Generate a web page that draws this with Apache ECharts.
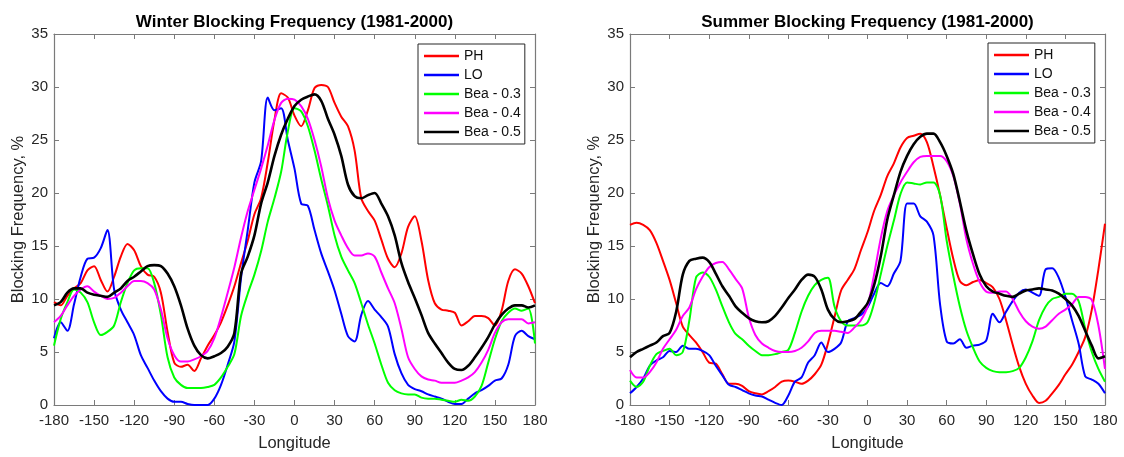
<!DOCTYPE html>
<html>
<head>
<meta charset="utf-8">
<script src="https://cdn.jsdelivr.net/npm/echarts@6/dist/echarts.min.js"></script>
<style>
  html, body { margin: 0; padding: 0; background: #fff; }
  #chart { width: 1124px; height: 457px; }
</style>
</head>
<body>
<div id="chart"></div>
<script>
// longitude grid (degrees)
const lons = [-180,-175,-170,-165,-160,-155,-150,-145,-140,-135,-130,-125,-120,-115,-110,-105,-100,-95,-90,-85,-80,-75,-70,-65,-60,-55,-50,-45,-40,-35,-30,-25,-20,-15,-10,-5,
  0,5,10,15,20,25,30,35,40,45,50,55,60,65,70,75,80,85,90,95,100,105,110,115,120,125,130,135,140,145,150,155,160,165,170,175,180];

const seriesNames = ['PH', 'LO', 'Bea - 0.3', 'Bea - 0.4', 'Bea - 0.5'];
const seriesColors = ['#ff0000', '#0000ff', '#00ff00', '#ff00ff', '#000000'];
const xTicks = [-180, -150, -120, -90, -60, -30, 0, 30, 60, 90, 120, 150, 180];
const yTicks = [0, 5, 10, 15, 20, 25, 30, 35];

// winter (1981-2000)
const winterPH = [9.7, 9.4, 10.3, 11.0, 11.5, 12.7, 13.1, 11.8, 10.7, 12.1, 14.0, 15.2, 14.6, 13.1, 12.3, 12.1, 10.6, 6.9, 4.0, 3.6, 3.8, 3.2, 4.4, 5.6, 6.6, 7.8, 9.4, 11.2, 13.4, 15.5, 18.0, 19.5, 22.9, 26.9, 29.4, 29.0,
  27.3, 26.3, 27.8, 29.9, 30.2, 30.0, 28.5, 27.2, 26.3, 24.0, 19.5, 18.3, 17.4, 15.6, 13.8, 13.0, 14.3, 16.8, 17.8, 15.5, 11.8, 9.6, 9.0, 8.9, 8.7, 7.5, 7.9, 8.4, 8.4, 8.2, 7.5, 8.9, 11.7, 12.8, 12.4, 11.2, 9.6];
const winterLO = [6.3, 7.8, 7.0, 9.5, 12.1, 13.8, 13.9, 14.8, 16.5, 10.9, 9.0, 7.8, 6.6, 4.7, 3.5, 2.3, 1.3, 0.6, 0.3, 0.3, 0.1, 0, 0, 0, 0.6, 1.9, 3.8, 6.0, 12.0, 16.5, 21.0, 23.0, 29.0, 27.8, 28.0, 25.0,
  22.3, 19.0, 18.8, 16.5, 14.3, 12.6, 10.8, 8.6, 6.5, 6.0, 8.5, 9.8, 9.0, 8.3, 7.4, 4.8, 3.0, 1.9, 1.5, 1.3, 1.0, 0.8, 0.6, 0.3, 0.1, 0.1, 0.6, 1.1, 1.4, 1.8, 2.3, 2.5, 3.8, 6.5, 7.0, 6.5, 6.2];
const winterB3 = [5.6, 8.1, 9.7, 10.9, 10.6, 9.7, 7.8, 6.6, 6.9, 7.5, 9.7, 11.5, 12.7, 12.9, 12.9, 11.5, 8.5, 4.5, 2.6, 1.9, 1.6, 1.6, 1.6, 1.7, 1.9, 2.6, 3.6, 4.8, 8.4, 10.5, 12.3, 14.5, 17.3, 19.5, 22.0, 25.8,
  28.0, 27.7, 26.3, 24.0, 21.3, 18.8, 16.0, 14.0, 12.7, 11.5, 9.6, 7.6, 5.8, 3.8, 2.1, 1.4, 1.1, 1.0, 1.0, 0.7, 0.6, 0.6, 0.5, 0.4, 0.3, 0.5, 0.4, 0.8, 1.8, 4.0, 6.2, 7.9, 8.7, 9.1, 8.9, 9.1, 5.8];
const winterB4 = [7.8, 8.4, 9.4, 10.3, 10.9, 11.2, 10.7, 10.3, 10.0, 10.1, 10.6, 11.2, 11.7, 11.7, 11.5, 10.9, 9.0, 6.3, 4.7, 4.1, 4.1, 4.3, 4.6, 5.1, 6.3, 8.3, 10.6, 13.0, 15.8, 18.3, 20.3, 22.3, 24.5, 26.9, 28.5, 28.9,
  28.8, 28.2, 27.0, 25.0, 22.5, 19.5, 17.4, 16.0, 14.8, 14.1, 14.1, 14.3, 14.0, 12.5, 11.0, 9.6, 7.2, 4.5, 3.4, 2.7, 2.4, 2.3, 2.1, 2.1, 2.1, 2.3, 2.6, 3.1, 4.0, 5.2, 6.8, 7.8, 8.1, 8.1, 8.1, 7.7, 7.8];
const winterB5 = [9.4, 9.7, 10.6, 11.0, 11.0, 10.6, 10.4, 10.3, 10.2, 10.6, 11.0, 11.7, 12.1, 12.6, 13.1, 13.2, 13.1, 12.4, 11.2, 9.4, 7.2, 5.6, 4.7, 4.4, 4.6, 4.9, 5.5, 6.8, 12.4, 14.0, 16.0, 19.0, 21.0, 23.5, 25.5, 27.0,
  28.2, 28.8, 29.1, 29.3, 28.7, 27.0, 25.5, 23.5, 20.8, 19.7, 19.5, 19.8, 20.0, 19.0, 17.8, 16.0, 13.4, 11.6, 10.1, 8.5, 6.8, 5.8, 4.9, 4.0, 3.4, 3.3, 3.7, 4.5, 5.4, 6.4, 7.6, 8.5, 9.1, 9.4, 9.4, 9.2, 9.4];

// summer (1981-2000)
const summerPH = [17.0, 17.2, 17.0, 16.5, 15.3, 13.6, 11.8, 9.6, 7.4, 6.6, 5.9, 5.0, 4.0, 3.9, 2.9, 2.0, 2.0, 1.8, 1.3, 1.1, 1.0, 1.3, 1.7, 2.2, 2.3, 2.2, 2.0, 2.3, 2.9, 3.8, 5.8, 8.3, 10.8, 11.8, 12.8, 14.6,
  16.3, 18.3, 19.8, 21.6, 22.8, 24.3, 25.2, 25.4, 25.6, 24.8, 22.5, 19.8, 16.7, 13.8, 11.7, 11.3, 11.6, 11.8, 11.5, 11.1, 10.0, 8.0, 5.7, 3.6, 2.0, 0.9, 0.2, 0.4, 1.1, 1.9, 2.9, 3.8, 5.0, 6.4, 9.0, 12.8, 17.1];
const summerLO = [1.1, 1.7, 2.5, 3.7, 4.2, 4.5, 5.1, 5.0, 5.6, 5.3, 5.3, 5.1, 4.7, 3.7, 2.8, 1.9, 1.7, 1.4, 1.1, 0.9, 0.8, 0.5, 0.2, 0.0, 0.9, 2.2, 2.6, 4.0, 4.7, 5.9, 5.0, 5.3, 5.9, 7.9, 8.2, 8.5,
  9.2, 10.5, 11.5, 11.2, 12.4, 13.6, 19.0, 19.0, 17.8, 17.3, 16.0, 9.5, 6.0, 5.8, 6.2, 5.4, 5.6, 5.7, 6.1, 8.6, 7.8, 8.8, 9.8, 10.6, 10.9, 10.6, 10.3, 12.8, 12.9, 12.0, 10.2, 8.0, 5.8, 2.7, 2.4, 2.0, 1.1];
const summerB3 = [2.3, 1.7, 2.2, 3.7, 4.8, 5.1, 5.3, 4.7, 5.0, 8.0, 12.0, 12.5, 12.1, 10.9, 9.3, 7.8, 6.7, 6.2, 5.6, 5.1, 4.7, 4.7, 4.8, 5.0, 5.2, 6.8, 8.8, 10.3, 11.3, 11.8, 12.0, 9.3, 7.9, 7.5, 7.5, 7.5,
  7.8, 9.6, 12.3, 15.0, 17.4, 19.9, 21.0, 20.9, 20.8, 21.0, 21.0, 19.8, 15.5, 12.2, 9.3, 7.0, 5.4, 4.1, 3.5, 3.2, 3.1, 3.1, 3.2, 3.5, 4.5, 6.0, 8.0, 9.3, 10.0, 10.2, 10.5, 10.5, 9.8, 7.2, 5.0, 3.4, 2.2];
const summerB4 = [3.3, 2.6, 2.6, 3.1, 4.0, 5.3, 6.2, 7.1, 8.4, 9.2, 10.9, 12.1, 13.0, 13.4, 13.5, 12.8, 11.9, 11.0, 8.3, 6.6, 5.8, 5.4, 5.1, 5.0, 5.0, 5.1, 5.4, 6.0, 6.8, 7.0, 7.0, 7.0, 6.9, 6.8, 7.3, 8.0,
  9.3, 12.3, 15.7, 18.3, 19.8, 21.0, 22.0, 22.9, 23.4, 23.5, 23.5, 23.5, 23.0, 21.6, 19.0, 15.6, 13.3, 11.6, 10.7, 10.6, 10.7, 10.7, 10.0, 8.8, 7.9, 7.4, 7.2, 7.4, 8.0, 8.6, 9.0, 9.5, 10.2, 10.2, 9.9, 7.5, 3.4];
const summerB5 = [4.5, 5.0, 5.3, 5.6, 5.9, 6.5, 6.8, 8.8, 12.3, 13.6, 13.8, 13.9, 13.5, 12.4, 11.2, 10.3, 9.3, 8.7, 8.2, 7.9, 7.8, 7.9, 8.4, 9.2, 10.1, 10.9, 11.8, 12.3, 12.1, 10.9, 9.0, 8.1, 7.8, 7.9, 8.1, 8.8,
  9.6, 11.3, 14.0, 17.5, 19.8, 22.0, 23.5, 24.6, 25.3, 25.6, 25.6, 24.8, 23.5, 21.8, 19.2, 16.4, 14.2, 12.3, 11.2, 10.7, 10.5, 10.3, 10.2, 10.5, 10.8, 10.9, 11.0, 10.9, 10.8, 10.5, 10.0, 9.4, 8.4, 7.0, 5.6, 4.4, 4.6];

const panels = [
  { title: 'Winter Blocking Frequency (1981-2000)', data: [winterPH, winterLO, winterB3, winterB4, winterB5],
    grid: { left: 54, top: 34, width: 481, height: 377 }, legend: { left: 418, top: 44 } },
  { title: 'Summer Blocking Frequency (1981-2000)', data: [summerPH, summerLO, summerB3, summerB4, summerB5],
    grid: { left: 630, top: 34, width: 475, height: 376 }, legend: { left: 988, top: 43 } }
];

const FONT = '"Liberation Sans", Arial, sans-serif';
const axisGray = '#7a7a7a';
const textGray = '#262626';

let grids = [], xAxes = [], yAxes = [], series = [], legends = [], graphics = [];

panels.forEach((p, i) => {
  grids.push(p.grid);
  const tick = { inside: true, length: 5, lineStyle: { color: axisGray } };
  const line = { onZero: false, lineStyle: { color: axisGray, width: 1.2 } };
  // bottom + top x axes (box look)
  xAxes.push({
    gridIndex: i, type: 'value', min: xTicks[0], max: xTicks[xTicks.length - 1], interval: 30,
    position: 'bottom', name: 'Longitude', nameLocation: 'middle', nameGap: 30,
    nameTextStyle: { fontSize: 16.5, color: textGray },
    axisLine: line, axisTick: tick, splitLine: { show: false },
    axisLabel: { fontSize: 15, color: textGray, margin: 8 }
  });
  xAxes.push({
    gridIndex: i, type: 'value', min: xTicks[0], max: xTicks[xTicks.length - 1], interval: 30,
    position: 'top', axisLine: line, axisTick: tick, splitLine: { show: false },
    axisLabel: { show: false }
  });
  // left + right y axes
  yAxes.push({
    gridIndex: i, type: 'value', min: yTicks[0], max: yTicks[yTicks.length - 1], interval: 5,
    position: 'left', name: 'Blocking Frequency, %', nameLocation: 'middle', nameGap: 27,
    nameTextStyle: { fontSize: 16.5, color: textGray },
    axisLine: line, axisTick: tick, splitLine: { show: false },
    axisLabel: { fontSize: 15, color: textGray, margin: 6 }
  });
  yAxes.push({
    gridIndex: i, type: 'value', min: yTicks[0], max: yTicks[yTicks.length - 1], interval: 5,
    position: 'right', axisLine: line, axisTick: tick, splitLine: { show: false },
    axisLabel: { show: false }
  });

  p.data.forEach((vals, k) => {
    series.push({
      type: 'line', name: seriesNames[k], xAxisIndex: i * 2, yAxisIndex: i * 2,
      data: lons.map((lon, j) => [lon, vals[j]]),
      showSymbol: false, smooth: 0.3,
      lineStyle: { color: seriesColors[k], width: k === 4 ? 2.6 : 2 },
      itemStyle: { color: seriesColors[k] }
    });
  });

  legends.push({
    orient: 'vertical', left: p.legend.left, top: p.legend.top,
    icon: 'rect', itemWidth: 35, itemHeight: 2.5, itemGap: 5,
    padding: [5, 4, 5, 6],
    borderColor: '#262626', borderWidth: 1, backgroundColor: '#fff',
    textStyle: { fontSize: 14, color: '#111', lineHeight: 14 },
    data: seriesNames
  });

  graphics.push({
    type: 'text', x: p.grid.left + p.grid.width / 2, y: 22,
    style: { text: p.title, font: 'bold 17px ' + FONT, fill: '#000', align: 'center', verticalAlign: 'middle' }
  });
});

const myChart = echarts.init(document.getElementById('chart'));
myChart.setOption({
  animation: false,
  backgroundColor: '#fff',
  textStyle: { fontFamily: FONT },
  grid: grids,
  xAxis: xAxes,
  yAxis: yAxes,
  legend: legends,
  graphic: graphics,
  series: series
});
</script>
</body>
</html>
